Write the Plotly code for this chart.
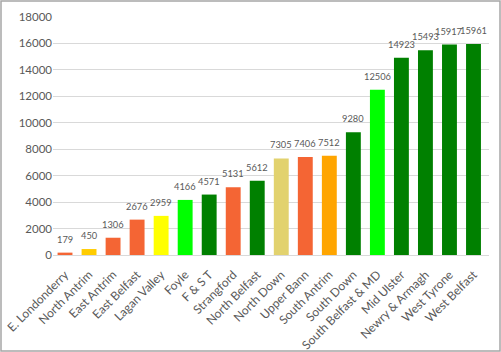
import plotly.graph_objects as go

categories = ["E. Londonderry", "North Antrim", "East Antrim", "East Belfast", "Lagan Valley",
              "Foyle", "F & S T", "Strangford", "North Belfast", "North Down", "Upper Bann",
              "South Antrim", "South Down", "South Belfast & MD", "Mid Ulster", "Newry & Armagh",
              "West Tyrone", "West Belfast"]
values = [179, 450, 1306, 2676, 2959, 4166, 4571, 5131, 5612, 7305, 7406, 7512, 9280,
          12506, 14923, 15493, 15917, 15961]
colors = ["#F46534", "#FFCC00", "#F46534", "#F46534", "#FFFF00", "#00FF00", "#008000",
          "#F46534", "#008000", "#E2D26E", "#F46534", "#FFA500", "#008000", "#00FF00",
          "#008000", "#008000", "#008000", "#008000"]
y_ticks = [0, 2000, 4000, 6000, 8000, 10000, 12000, 14000, 16000, 18000]

W, H = 501, 352
ml, mr, mt, mb = 53, 12, 17, 97
pw, ph = W - ml - mr, H - mt - mb

fig = go.Figure(go.Bar(
    x=categories, y=values, marker=dict(color=colors, line=dict(width=0)),
    hoverinfo="x+y",
))

for c, v in zip(categories, values):
    fig.add_annotation(x=c, y=v, text=str(v), showarrow=False, yanchor="bottom",
                       yshift=6, font=dict(size=9.3, color="#595959"))

fig.update_layout(
    width=W, height=H, margin=dict(l=ml, r=mr, t=mt, b=mb),
    paper_bgcolor="white", plot_bgcolor="white",
    font=dict(family="Lato, sans-serif", color="#595959"),
    bargap=0.38, showlegend=False,
    xaxis=dict(tickangle=-45, tickfont=dict(size=12, color="#595959"),
               showline=True, linecolor="#d9d9d9", linewidth=1, ticks="",
               ticklabelstandoff=7, automargin=False),
    yaxis=dict(range=[0, 18000], tickvals=y_ticks, tickformat="d",
               tickfont=dict(size=11.5, color="#595959"), automargin=False,
               showgrid=True, gridcolor="#d9d9d9", gridwidth=1, zeroline=False,
               ticks="", ticklen=0),
    shapes=[dict(type="rect", xref="paper", yref="paper",
                 x0=-(ml - 1) / pw, x1=1 + (mr - 1) / pw,
                 y0=-(mb - 1) / ph, y1=1 + (mt - 1) / ph,
                 line=dict(color="#a6a6a6", width=1.5))],
)

fig.write_html("out.html")
